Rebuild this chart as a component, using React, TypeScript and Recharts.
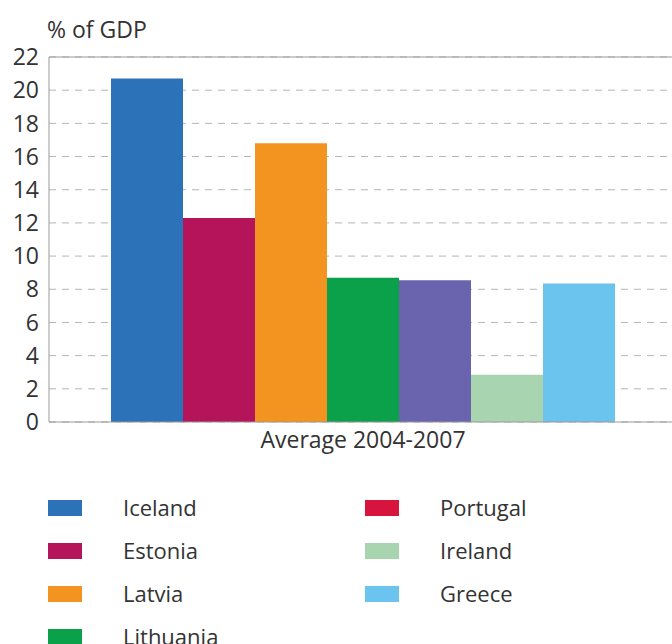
import React from 'react';
import { BarChart, Bar, XAxis, YAxis, CartesianGrid, ReferenceLine } from 'recharts';

// One category, one bar per country
const categories = ['Average 2004-2007'];
const barKeys = ['Iceland', 'Estonia', 'Latvia', 'Lithuania', 'Other', 'Ireland', 'Greece'];
const barValues = [20.7, 12.3, 16.8, 8.7, 8.55, 2.85, 8.35];
const barColors = ['#2b72b8', '#b5135a', '#f39320', '#0ba04a', '#6a63ad', '#a8d5b0', '#6ac4ee'];

const yTicks = [0, 2, 4, 6, 8, 10, 12, 14, 16, 18, 20, 22];

// legend as printed (two columns)
const legendLeft = ['Iceland', 'Estonia', 'Latvia', 'Lithuania'];
const legendLeftColors = ['#2b72b8', '#b5135a', '#f39320', '#0ba04a'];
const legendRight = ['Portugal', 'Ireland', 'Greece'];
const legendRightColors = ['#d6143e', '#a8d5b0', '#6ac4ee'];

const font = '"Open Sans", "Noto Sans", sans-serif';

const data = categories.map(name => {
  const row: Record<string, string | number> = { name };
  barKeys.forEach((k, i) => { row[k] = barValues[i]; });
  return row;
});

const LegendColumn = ({ names, colors, left }: { names: string[]; colors: string[]; left: number }) => (
  <div style={{ position: 'absolute', left, top: 486 }}>
    {names.map((n, i) => (
      <div key={n} style={{ display: 'flex', alignItems: 'center', height: 43 }}>
        <div style={{ width: 34, height: 16, background: colors[i] }} />
        <span style={{ marginLeft: 41, fontSize: 22, color: '#333', fontFamily: font, lineHeight: '43px' }}>{n}</span>
      </div>
    ))}
  </div>
);

export default function App() {
  return (
    <div style={{ position: 'absolute', left: 0, top: 0, width: 672, height: 644, overflow: 'hidden', background: '#fff' }}>
      <div style={{ position: 'absolute', left: 47, top: 13, fontSize: 23, color: '#333', fontFamily: font }}>% of GDP</div>
      <BarChart
        width={677}
        height={460}
        data={data}
        margin={{ top: 57, right: 0, left: 0, bottom: 0 }}
        barCategoryGap={62}
        barGap={0}
      >
        <CartesianGrid vertical={false} strokeDasharray="7 6" stroke="#b5b5b5" />
        <XAxis
          dataKey="name"
          height={38}
          tickLine={false}
          axisLine={{ stroke: '#999' }}
          tick={{ fontSize: 23, fill: '#333', fontFamily: font }}
          tickMargin={4}
        />
        <YAxis
          width={49}
          domain={[0, 22]}
          ticks={yTicks}
          interval={0}
          tickLine={false}
          tickSize={0}
          tickMargin={10}
          axisLine={{ stroke: '#999' }}
          tick={{ fontSize: 23, fill: '#333', fontFamily: font }}
        />
        <ReferenceLine y={22} stroke="#999" />
        {barKeys.map((k, i) => (
          <Bar key={k} dataKey={k} fill={barColors[i]} isAnimationActive={false} />
        ))}
      </BarChart>
      <LegendColumn names={legendLeft} colors={legendLeftColors} left={48} />
      <LegendColumn names={legendRight} colors={legendRightColors} left={365} />
    </div>
  );
}
